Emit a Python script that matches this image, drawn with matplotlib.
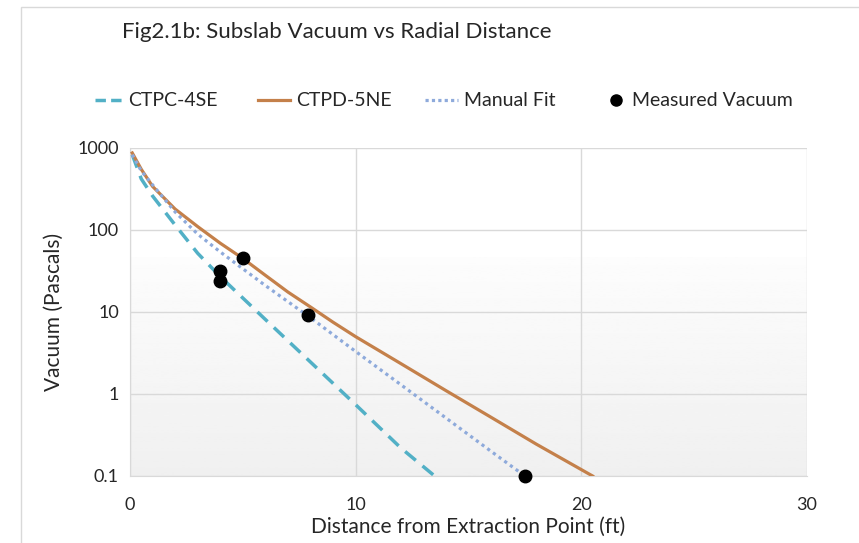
import numpy as np
import matplotlib
matplotlib.use("Agg")
import matplotlib.pyplot as plt
from matplotlib.lines import Line2D
from matplotlib.patches import Rectangle

plt.rcParams['font.family'] = ['Lato', 'DejaVu Sans']

# CTPC-4SE model curve
ctpc_x = [0.1, 0.5, 1, 2, 3, 4, 5, 6, 8, 10, 12, 13.5]
ctpc_y = [830, 420, 260, 115, 52, 27, 14.8, 8.1, 2.45, 0.74, 0.22, 0.1]

# CTPD-5NE model curve
ctpd_x = [0.1, 0.5, 1, 2, 3, 4, 5, 6, 7, 8, 9, 10, 12, 14, 16, 18, 20.5]
ctpd_y = [870, 550, 340, 180, 110, 69, 45, 28, 17.5, 11.5, 7.5, 5.0, 2.35, 1.1, 0.52, 0.245, 0.1]

# Manual fit
fit_x = [0.1, 0.5, 1, 2, 3, 4, 6, 8, 10, 12, 14, 16, 17.5]
fit_y = [830, 525, 355, 166, 89, 54, 21, 8.5, 3.3, 1.3, 0.51, 0.2, 0.1]

# Measured vacuum
meas_x = [4, 4, 5, 7.9, 17.5]
meas_y = [32, 24, 46, 9.2, 0.1]

teal = '#52b0c6'
orange = '#c4804a'
blue = '#8eaadb'
grid_c = '#d9d9d9'
txt = '#262626'

fig = plt.figure(figsize=(8.59, 5.43), dpi=100)
fig.patches.append(Rectangle((21 / 859, -0.1), 1.1, 1.1 - 7 / 543, transform=fig.transFigure,
                             fill=False, edgecolor=grid_c, linewidth=1))

ax = fig.add_axes([130 / 859, 1 - 476 / 543, 677 / 859, 328 / 543])
ax.set_yscale('log')
ax.set_xlim(0, 30)
ax.set_ylim(0.1, 1000)

# light gradient in lower part of plot area
grad = np.linspace(0.94, 0.99, 100).reshape(-1, 1)
ax.imshow(grad, cmap='gray', vmin=0, vmax=1, extent=(0, 1, 0, 2 / 3), origin='lower',
          transform=ax.transAxes, aspect='auto', zorder=0.1)

ax.plot(ctpc_x, ctpc_y, color=teal, lw=2.5, ls=(0, (4, 2.5)), zorder=3)
ax.plot(ctpd_x, ctpd_y, color=orange, lw=2.3, zorder=3)
ax.plot(fit_x, fit_y, color=blue, lw=2.3, ls=(0, (1, 1.2)), zorder=3)
ax.plot(meas_x, meas_y, 'o', color='black', ms=9, zorder=4, clip_on=False)

ax.set_xticks([0, 10, 20, 30])
ax.set_yticks([0.1, 1, 10, 100, 1000])
ax.set_yticklabels(['0.1', '1', '10', '100', '1000'])
ax.yaxis.set_minor_locator(matplotlib.ticker.NullLocator())
ax.grid(True, color=grid_c, lw=1)
ax.set_axisbelow(True)
for s in ['top', 'right']:
    ax.spines[s].set_visible(False)
for s in ['left', 'bottom']:
    ax.spines[s].set_color(grid_c)
ax.tick_params(length=0, labelsize=13, labelcolor=txt)
ax.tick_params(axis='x', pad=15)
ax.tick_params(axis='y', pad=8)

ax.set_xlabel('Distance from Extraction Point (ft)', fontsize=15, color=txt, labelpad=3)
ax.set_ylabel('Vacuum (Pascals)', fontsize=15, color=txt, labelpad=10)

fig.text(122 / 859, 1 - 32 / 543, 'Fig2.1b: Subslab Vacuum vs Radial Distance',
         fontsize=16, color=txt, va='center')

# legend entries placed one by one
handles = [
    Line2D([], [], color=teal, lw=2.5, ls=(0, (3, 1.5))),
    Line2D([], [], color=orange, lw=2.3),
    Line2D([], [], color=blue, lw=2.3, ls=(0, (1, 1))),
    Line2D([], [], marker='o', color='black', ls='none', ms=8),
]
labels = ['CTPC-4SE', 'CTPD-5NE', 'Manual Fit', 'Measured Vacuum']
starts = [95, 258, 425, 605]
hlens = [1.4, 1.65, 1.7, 1.1]
for h, lab, x0, hl in zip(handles, labels, starts, hlens):
    fig.legend([h], [lab], loc='center left', bbox_to_anchor=(x0 / 859, 1 - 101 / 543),
               frameon=False, fontsize=14, handlelength=hl, handletextpad=0.3,
               borderpad=0, borderaxespad=0, labelcolor=txt)

fig.savefig('out.png', dpi=100)
